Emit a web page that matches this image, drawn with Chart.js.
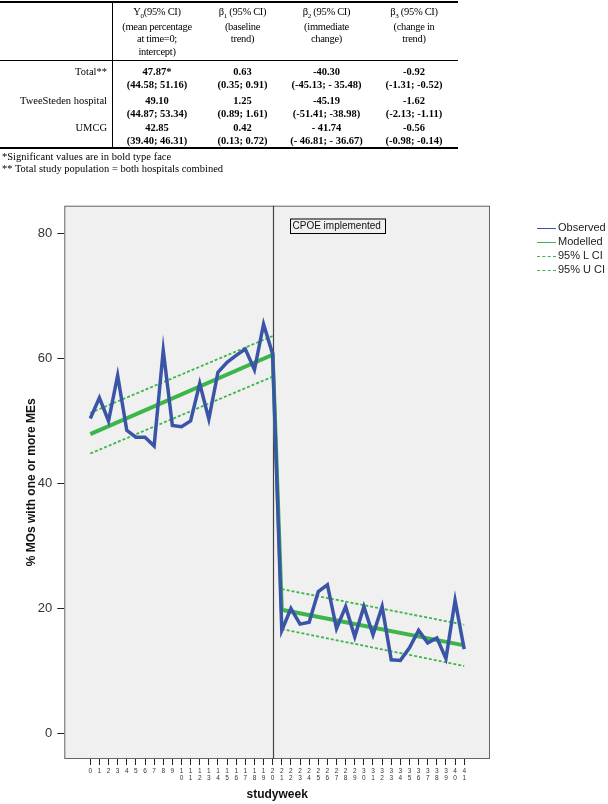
<!DOCTYPE html>
<html>
<head>
<meta charset="utf-8">
<script src="https://cdn.jsdelivr.net/npm/chart.js@4/dist/chart.umd.min.js"></script>
<style>
body{margin:0;background:#fff;}
#wrap{position:relative;width:608px;height:804px;overflow:hidden;}
#chart{position:absolute;left:0;top:0;}
.t{position:absolute;white-space:nowrap;font-family:"Liberation Serif","Times New Roman",serif;color:#000;transform:translate(-50%,-50%);}
.h{font-size:10.5px;letter-spacing:-0.3px;}
.b{font-size:10.5px;font-weight:bold;}
.lab{font-size:10.5px;transform:translate(-100%,-50%);}
.fn{font-size:10.5px;transform:translate(0,-50%);}
.rule{position:absolute;background:#000;}
.leg{position:absolute;font-family:"Liberation Sans",Arial,sans-serif;font-size:11px;color:#222;}
.leg i{position:absolute;left:0;top:7px;width:19px;height:0;}
.leg span{position:absolute;left:21px;top:0;white-space:nowrap;}
</style>
</head>
<body>
<div id="wrap">
<canvas id="chart" width="608" height="804"></canvas>
<div id="table"></div>
<div id="legend"></div>
</div>
<script>
// TABLE DATA
const colHeads=[
  ['Y<sub style="font-size:7px">0</sub>(95% CI)','(mean percentage','at time=0;','intercept)'],
  ['β<sub style="font-size:7px">1</sub> (95% CI)','(baseline','trend)'],
  ['β<sub style="font-size:7px">2</sub> (95% CI)','(immediate','change)'],
  ['β<sub style="font-size:7px">3</sub> (95% CI)','(change in','trend)']
];
const rowNames=['Total**','TweeSteden hospital','UMCG'];
const estimates=[
  ['47.87*','0.63','-40.30','-0.92'],
  ['49.10','1.25','-45.19','-1.62'],
  ['42.85','0.42','- 41.74','-0.56']
];
const intervals=[
  ['(44.58; 51.16)','(0.35; 0.91)','(-45.13; - 35.48)','(-1.31; -0.52)'],
  ['(44.87; 53.34)','(0.89; 1.61)','(-51.41; -38.98)','(-2.13; -1.11)'],
  ['(39.40; 46.31)','(0.13; 0.72)','(- 46.81; - 36.67)','(-0.98; -0.14)']
];
const footnotes=['*Significant values are in bold type face','** Total study population = both hospitals combined'];

// CHART DATA
const weeks=[0,1,2,3,4,5,6,7,8,9,10,11,12,13,14,15,16,17,18,19,20,21,22,23,24,25,26,27,28,29,30,31,32,33,34,35,36,37,38,39,40,41];
const observed=[50.4,53.7,50.0,57.3,48.5,47.4,47.4,46.0,61.3,49.3,49.1,50.0,56.0,50.3,57.8,59.4,60.5,61.5,58.2,65.5,60.7,
  16.5,20.0,17.5,17.8,22.7,23.8,16.8,20.3,15.5,20.3,15.8,20.3,11.8,11.7,13.7,16.5,14.5,15.3,12.0,21.3,13.5];
const modelWeeks=[0,20,21,41];
const modelled=[47.9,60.6,19.8,14.1];
const lowerCI=[44.8,57.1,16.7,10.8];
const upperCI=[51.3,63.6,23.1,17.4];
const yTicks=[0,20,40,60,80];
const interventionWeek=20;
const BLUE='#3b55a6', GREEN='#3cb64b';

// BUILD TABLE
function buildTable(){
  const t=document.getElementById('table');
  let html='';
  const cx=[157,242.5,326.5,414];
  const hy=[13,25.5,38,50.5];
  colHeads.forEach((lines,c)=>lines.forEach((s,i)=>{ html+=`<div class="t h" style="left:${cx[c]}px;top:${hy[i]}px">${s}</div>`; }));
  const ry=[71,100,126.7];
  rowNames.forEach((n,r)=>{
    html+=`<div class="t lab" style="left:107px;top:${ry[r]}px">${n}</div>`;
    estimates[r].forEach((v,c)=>{ html+=`<div class="t b" style="left:${cx[c]}px;top:${ry[r]}px">${v}</div>`; });
    intervals[r].forEach((v,c)=>{ html+=`<div class="t b" style="left:${cx[c]}px;top:${ry[r]+13.2}px">${v}</div>`; });
  });
  footnotes.forEach((f,i)=>{ html+=`<div class="t fn" style="left:2px;top:${156+i*11.5}px">${f}</div>`; });
  html+='<div class="rule" style="left:0;top:1px;width:458px;height:2px"></div>';
  html+='<div class="rule" style="left:0;top:59.5px;width:458px;height:1.5px"></div>';
  html+='<div class="rule" style="left:0;top:146.5px;width:458px;height:2px"></div>';
  html+='<div class="rule" style="left:111.5px;top:2px;width:1.3px;height:145px"></div>';
  t.innerHTML=html;
}

// BUILD LEGEND
function buildLegend(){
  const items=[['Observed',`1.5px solid ${BLUE}`],['Modelled',`1.5px solid ${GREEN}`],['95% L CI',`1.2px dashed ${GREEN}`],['95% U CI',`1.2px dashed ${GREEN}`]];
  let html='';
  items.forEach((it,i)=>{ html+=`<div class="leg" style="left:537px;top:${221+i*13.9}px"><i style="border-top:${it[1]}"></i><span>${it[0]}</span></div>`; });
  document.getElementById('legend').innerHTML=html;
}

// PLOT FRAME, INTERVENTION LINE AND LABEL
const framePlugin={
  id:'frame',
  beforeDraw(chart){
    const {ctx,chartArea:a}=chart;
    ctx.save();
    ctx.fillStyle='#f0f0f0';
    ctx.fillRect(a.left,a.top,a.right-a.left,a.bottom-a.top);
    ctx.strokeStyle='#666'; ctx.lineWidth=1;
    ctx.strokeRect(a.left+0.5,a.top+0.5,a.right-a.left-1,a.bottom-a.top-1);
    ctx.restore();
  },
  beforeDatasetsDraw(chart){
    const {ctx,chartArea:a,scales}=chart;
    const x=Math.round(scales.x.getPixelForValue(interventionWeek))+0.5;
    ctx.save();
    ctx.strokeStyle='#444'; ctx.lineWidth=1.2;
    ctx.beginPath(); ctx.moveTo(x,a.top); ctx.lineTo(x,a.bottom); ctx.stroke();
    const bx=x+17, by=a.top+13.3;
    ctx.strokeStyle='#000'; ctx.lineWidth=1;
    ctx.strokeRect(bx,by,95,14.5);
    ctx.fillStyle='#111'; ctx.font='10px "Liberation Sans", Arial, sans-serif';
    ctx.textBaseline='middle';
    ctx.fillText('CPOE implemented',bx+2,by+7.5);
    ctx.restore();
  }
};

function pts(xs,ys){
  // gap between pre and post intervention segments
  const out=[];
  xs.forEach((x,i)=>{ out.push({x,y:ys[i]}); if(x===interventionWeek) out.push({x:x+0.5,y:null}); });
  return out;
}

// CHART
function drawChart(){
  const ctx=document.getElementById('chart').getContext('2d');
  const modelPts=modelWeeks.map((x,i)=>({x,y:modelled[i]}));
  new Chart(ctx,{
    type:'line',
    data:{datasets:[
      {label:'Observed',data:weeks.map((x,i)=>({x,y:observed[i]})),borderColor:BLUE,borderWidth:3.5,pointRadius:0,tension:0,borderJoinStyle:'miter'},
      {label:'Modelled',data:modelPts,borderColor:GREEN,borderWidth:4,pointRadius:0,tension:0},
      {label:'95% L CI',data:pts(modelWeeks,lowerCI),borderColor:GREEN,borderWidth:1.8,borderDash:[3,2],pointRadius:0,spanGaps:false},
      {label:'95% U CI',data:pts(modelWeeks,upperCI),borderColor:GREEN,borderWidth:1.8,borderDash:[3,2],pointRadius:0,spanGaps:false}
    ]},
    options:{
      responsive:false,animation:false,
      layout:{padding:{top:205.7,right:118,left:0,bottom:0}},
      plugins:{legend:{display:false},tooltip:{enabled:false}},
      scales:{
        x:{type:'linear',min:-2.85,max:43.83,
          afterFit(s){ s.height=45; },
          afterBuildTicks(s){ s.ticks=weeks.map(v=>({value:v})); },
          grid:{drawOnChartArea:false,tickLength:6,tickColor:'#222',tickWidth:1},
          border:{display:false},
          ticks:{autoSkip:false,maxRotation:0,padding:3.5,color:'#333',
            font:{family:'"Liberation Sans", Arial, sans-serif',size:6.5,lineHeight:0.95},
            callback:v=>String(v).split('')},
          title:{display:true,text:'studyweek',color:'#111',padding:{top:0,bottom:1.8},
            font:{family:'"Liberation Sans", Arial, sans-serif',size:12,weight:'bold'}}
        },
        y:{min:-4.08,max:84.45,
          afterFit(s){ s.width=64.3; },
          afterBuildTicks(s){ s.ticks=yTicks.map(v=>({value:v})); },
          grid:{drawOnChartArea:false,tickLength:7,tickColor:'#222',tickWidth:1},
          border:{display:false},
          ticks:{padding:5,color:'#333',font:{family:'"Liberation Sans", Arial, sans-serif',size:13}},
          title:{display:true,text:'% MOs with one or more MEs',color:'#111',padding:{top:24.8,bottom:0},
            font:{family:'"Liberation Sans", Arial, sans-serif',size:12,weight:'bold'}}
        }
      }
    },
    plugins:[framePlugin]
  });
}

buildTable();
buildLegend();
drawChart();
</script>
</body>
</html>
